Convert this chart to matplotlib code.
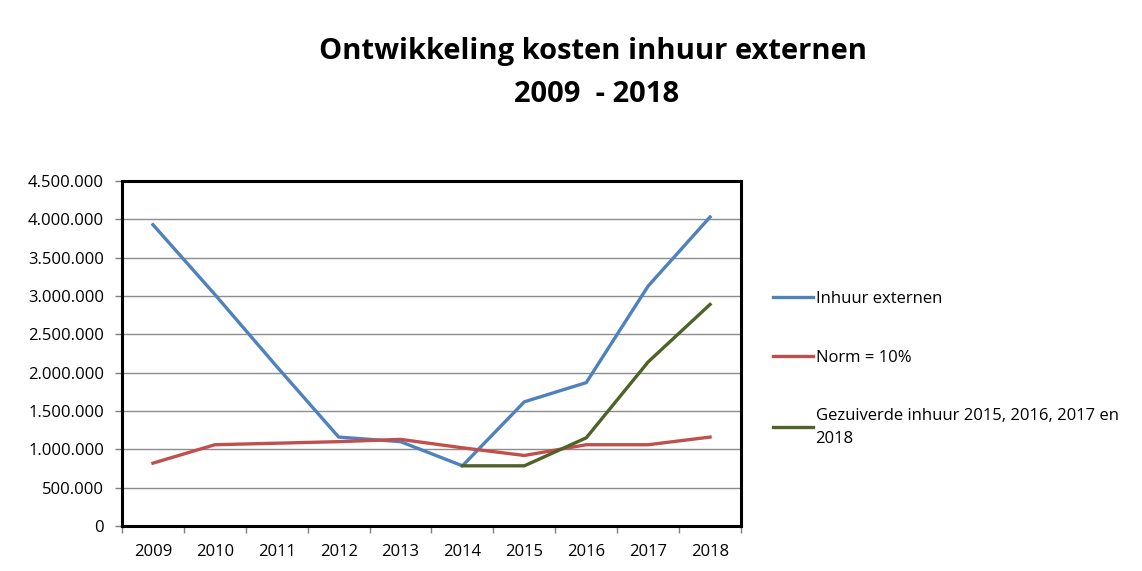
import matplotlib.pyplot as plt
from matplotlib.ticker import FuncFormatter, FixedLocator

# data
years = ["2009", "2010", "2011", "2012", "2013", "2014", "2015", "2016", "2017", "2018"]
inhuur = [3930000, 3020000, 2080000, 1160000, 1100000, 785000, 1620000, 1870000, 3130000, 4030000]
norm = [820000, 1060000, 1080000, 1100000, 1130000, 1020000, 920000, 1060000, 1060000, 1160000]
gezuiverd_years = ["2014", "2015", "2016", "2017", "2018"]
gezuiverd = [785000, 785000, 1150000, 2140000, 2890000]

labels = ["Inhuur externen", "Norm = 10%", "Gezuiverde inhuur 2015, 2016, 2017 en\n2018"]
colors = ["#4F81BD", "#C0504D", "#4F6228"]

plt.rcParams['font.family'] = ['Open Sans', 'DejaVu Sans']

fig = plt.figure(figsize=(11.42, 5.71), dpi=100)
ax = fig.add_axes([122 / 1142, 1 - 526 / 571, (741 - 122) / 1142, (526 - 181) / 571])

xpos = list(range(len(years)))
gpos = [years.index(y) for y in gezuiverd_years]

ax.plot(xpos, inhuur, color=colors[0], lw=2.4, label=labels[0], solid_joinstyle='round')
ax.plot(xpos, norm, color=colors[1], lw=2.4, label=labels[1], solid_joinstyle='round')
ax.plot(gpos, gezuiverd, color=colors[2], lw=2.4, label=labels[2], solid_joinstyle='round')

ax.set_xlim(-0.5, len(years) - 0.5)
ax.set_ylim(0, 4500000)
ax.set_yticks(range(0, 4500001, 500000))
ax.yaxis.set_major_formatter(FuncFormatter(lambda v, p: f"{int(v):,}".replace(",", ".")))
ax.grid(axis='y', color='#8c8c8c', lw=1)
ax.set_axisbelow(True)

# category ticks sit between the years, labels centred
ax.xaxis.set_major_locator(FixedLocator([i - 0.5 for i in range(len(years) + 1)]))
ax.xaxis.set_major_formatter(FuncFormatter(lambda v, p: ""))
ax.xaxis.set_minor_locator(FixedLocator(xpos))
ax.set_xticklabels(years, minor=True)
ax.tick_params(axis='x', which='minor', length=0, pad=13, labelsize=12)
ax.tick_params(axis='x', which='major', length=5, color='#7f7f7f', width=1)
ax.tick_params(axis='y', length=5, color='#7f7f7f', width=1, labelsize=12, pad=8)

for s in ax.spines.values():
    s.set_linewidth(2.2)
    s.set_color('black')

fig.text(593 / 1142, 1 - 52 / 571, "Ontwikkeling kosten inhuur externen", ha='center', va='center',
         fontsize=21, fontweight='bold')
fig.text(597 / 1142, 1 - 95 / 571, "2009  - 2018", ha='center', va='center',
         fontsize=21, fontweight='bold')

leg = fig.legend(loc='upper left', bbox_to_anchor=(758 / 1142, 1 - 276 / 571), frameon=False,
                 fontsize=12, handlelength=2.4, handletextpad=0.15, labelspacing=2.55)
for t in leg.get_texts():
    t.set_linespacing(1.55)

plt.savefig("out.png", dpi=100)
